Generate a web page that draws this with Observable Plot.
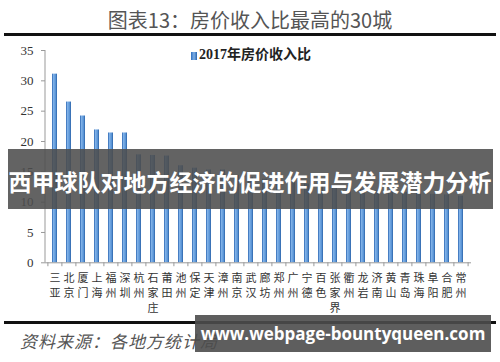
<!DOCTYPE html>
<html>
<head>
<meta charset="utf-8">
<script src="https://cdn.jsdelivr.net/npm/d3@7"></script>
<script src="https://cdn.jsdelivr.net/npm/@observablehq/plot@0.6"></script>
<style>
  html, body { margin: 0; padding: 0; background: #fff; }
  #page { position: relative; width: 500px; height: 362px; overflow: hidden; background: #fff; }
  #title { position: absolute; left: 0; top: 6px; width: 500px; text-align: center; font-family: "Noto Sans CJK SC", sans-serif; font-size: 20px; color: #555; line-height: 28px; }
  .rule { position: absolute; left: 4px; width: 492px; height: 3px; background: #111; }
  #chart { position: absolute; left: 0; top: 38px; }
  #legend { position: absolute; left: 191px; top: 47px; font-family: "Liberation Serif", "Noto Sans CJK SC", serif; font-weight: bold; font-size: 14px; color: #222; line-height: 16px; }
  #legend span.sw { display: inline-block; width: 6px; height: 8px; background: linear-gradient(90deg, #2e6fc0, #7fb0e6, #2a66b0); margin-right: 2px; vertical-align: -1px; }
  #source { position: absolute; left: 20px; top: 328px; font-family: "Liberation Serif", "Noto Sans CJK SC", serif; font-style: italic; font-size: 17px; color: #555; letter-spacing: 1px; }
  #banner { position: absolute; left: 8px; top: 149px; width: 485px; height: 60px; background: rgba(77,77,77,0.88); }
  #bannerText { position: absolute; left: 0; top: 163px; width: 500px; text-align: center; font-family: "Noto Sans CJK SC", sans-serif; font-weight: bold; font-size: 23px; line-height: 36px; color: #fff; white-space: nowrap; }
  #wm { position: absolute; left: 195px; top: 315px; width: 296px; height: 37px; background: rgba(77,77,77,0.9); color: #fff; font-family: "Open Sans", "DejaVu Sans", sans-serif; font-weight: bold; font-size: 17px; line-height: 37px; text-align: center; white-space: nowrap; }
</style>
</head>
<body>
<div id="page">
  <div id="title">图表13：房价收入比最高的30城</div>
  <div class="rule" style="top:33px"></div>
  <div id="chart"></div>
  <div id="legend"><span class="sw"></span>2017年房价收入比</div>
  <div class="rule" style="top:321px"></div>
  <div id="source">资料来源：各地方统计局</div>
  <div id="banner"></div>
  <div id="bannerText">西甲球队对地方经济的促进作用与发展潜力分析</div>
  <div id="wm">www.webpage-bountyqueen.com</div>
</div>
<script>
const cities = ["三亚","北京","厦门","上海","福州","深圳","杭州","石家庄","莆田","池州","保定","天津","漳州","南京","武汉","廊坊","郑州","广州","宁德","百色","张家界","衢州","龙岩","济南","黄山","青岛","珠海","阜阳","合肥","常州"];
const ratios = [31.1, 26.5, 24.2, 21.9, 21.4, 21.4, 17.8, 17.7, 17.6, 16.0, 15.6, 15.3, 15.3, 14.4, 14.1, 13.8, 13.5, 13.3, 13.0, 12.7, 12.5, 12.3, 12.1, 11.9, 11.8, 11.6, 11.5, 11.3, 11.2, 11.0];
const yTicks = [0, 5, 10, 15, 20, 25, 30, 35];

const data = cities.map((c, i) => ({city: c, value: ratios[i]}));
const lastCity = [cities[cities.length - 1]];

const chart = Plot.plot({
  width: 500,
  height: 280,
  marginLeft: 45,
  marginRight: 29,
  marginTop: 12,
  marginBottom: 55.7,
  x: {type: "band", domain: cities, paddingInner: 0.62, paddingOuter: 0.31, axis: null},
  y: {domain: [0, 35], axis: null},
  style: {fontFamily: "Liberation Serif, Noto Sans CJK SC, serif", background: "transparent"},
  marks: [
    Plot.barY(data, {x: "city", y: "value", fill: "url(#barGrad)"}),
    Plot.ruleY([0], {stroke: "#999"}),
    Plot.axisY({ticks: yTicks, tickSize: 4, tickPadding: 8, stroke: "#999", fill: "#333", fontSize: 13, label: null, tickFormat: d => String(d)}),
    Plot.ruleX(cities, {x: d => d, y1: 0, y2: -0.65, dx: -7.1, stroke: "#999"}),
    Plot.ruleX(lastCity, {x: d => d, y1: 0, y2: -0.65, dx: 7.1, stroke: "#999"}),
    Plot.text(cities, {x: d => d, y: 0, text: d => d.split("").join("\n"), lineAnchor: "top", lineHeight: 1.36, dy: 9, fontSize: 11, fill: "#333", fontFamily: "Noto Sans CJK SC, sans-serif"})
  ]
});

// y axis vertical line
d3.select(chart).append("line")
  .attr("x1", 45).attr("x2", 45).attr("y1", 12).attr("y2", 224.3)
  .attr("stroke", "#999");

const defs = d3.select(chart).insert("defs", ":first-child");
const g = defs.append("linearGradient").attr("id", "barGrad").attr("x1", "0").attr("x2", "1").attr("y1", "0").attr("y2", "0");
g.append("stop").attr("offset", "0%").attr("stop-color", "#2a64b0");
g.append("stop").attr("offset", "30%").attr("stop-color", "#7fb1e8");
g.append("stop").attr("offset", "70%").attr("stop-color", "#5b95d6");
g.append("stop").attr("offset", "100%").attr("stop-color", "#2a62a8");

document.getElementById("chart").appendChild(chart);
</script>
</body>
</html>
